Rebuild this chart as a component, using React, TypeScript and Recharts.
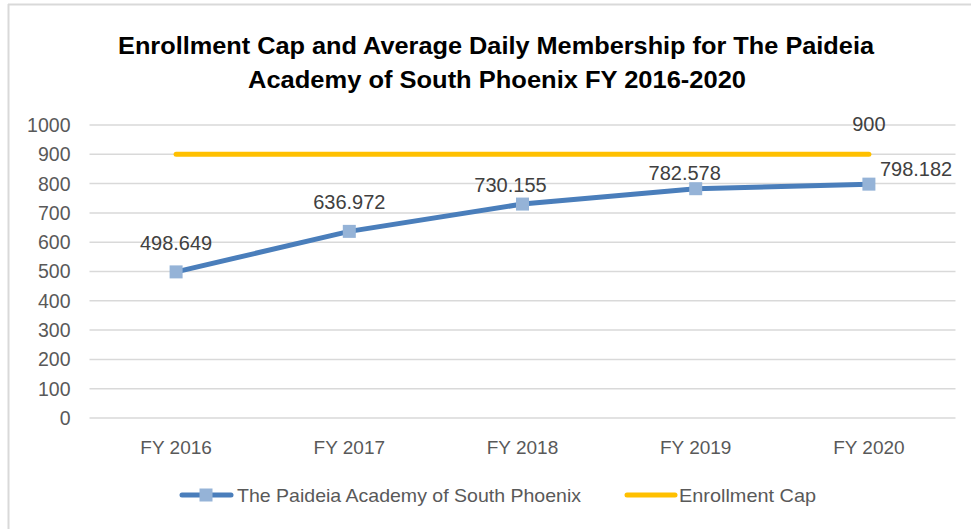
import React from "react";
import { LineChart, Line, XAxis, YAxis, CartesianGrid, LabelList } from "recharts";

const categories = ["FY 2016", "FY 2017", "FY 2018", "FY 2019", "FY 2020"];
const admValues = [498.649, 636.972, 730.155, 782.578, 798.182];
const capValues = [900, 900, 900, 900, 900];
const yTicks = [0, 100, 200, 300, 400, 500, 600, 700, 800, 900, 1000];
const seriesNames = ["The Paideia Academy of South Phoenix", "Enrollment Cap"];
const titleLines = [
  "Enrollment Cap and Average Daily Membership for The Paideia",
  "Academy of South Phoenix FY 2016-2020",
];

const data = categories.map((c, i) => ({ name: c, adm: admValues[i], cap: capValues[i] }));

const BLUE = "#4A7EBB";
const MARKER = "#95B3D7";
const GOLD = "#FFC000";
const FONT = "'Liberation Sans', Arial, sans-serif";
const LABEL_COLOR = "#404040";
const TICK_COLOR = "#595959";

// label placement offsets (styling only): [dx, dyBaseline, anchor]
const admLabelPlacement: [number, number, string][] = [
  [0, -22, "middle"],
  [0, -22, "middle"],
  [-12, -12, "middle"],
  [-11, -9, "middle"],
  [11, -8, "start"],
];

const SquareDot = (props: any) => {
  const { cx, cy } = props;
  if (cx == null || cy == null) return null;
  const s = 13;
  return <rect x={cx - s / 2} y={cy - s / 2} width={s} height={s} fill={MARKER} />;
};

const AdmLabel = (props: any) => {
  const { x, y, value, index } = props;
  const p = admLabelPlacement[index] || [0, -22, "middle"];
  return (
    <text x={x + p[0]} y={y + p[1]} textAnchor={p[2]} fontSize={20} fill={LABEL_COLOR} fontFamily={FONT}>
      {value}
    </text>
  );
};

const CapLabel = (props: any) => {
  const { x, y, value, index } = props;
  if (index !== capValues.length - 1) return null;
  return (
    <text x={x} y={y - 23} textAnchor="middle" fontSize={20} fill={LABEL_COLOR} fontFamily={FONT}>
      {value}
    </text>
  );
};

export default function App() {
  return (
    <div style={{ position: "absolute", left: 0, top: 0, width: 971, height: 529, background: "#fff" }}>
      <LineChart
        width={971}
        height={529}
        data={data}
        margin={{ top: 125, right: 15.5, left: 0, bottom: 81 }}
      >
        <CartesianGrid vertical={false} stroke="#D9D9D9" strokeWidth={1.5} />
        <XAxis
          dataKey="name"
          axisLine={false}
          tickLine={false}
          height={30}
          tickMargin={17}
          padding={{ left: 86.6, right: 86.6 }}
          tick={{ fontSize: 19, fill: TICK_COLOR, fontFamily: FONT }}
          interval={0}
        />
        <YAxis
          domain={[0, 1000]}
          ticks={yTicks}
          width={89.5}
          axisLine={false}
          tickLine={false}
          tickMargin={13}
          tick={{ fontSize: 19.5, fill: TICK_COLOR, fontFamily: FONT }}
          interval={0}
        />
        <Line
          dataKey="cap"
          stroke={GOLD}
          strokeWidth={5}
          strokeLinecap="round"
          dot={false}
          isAnimationActive={false}
        >
          <LabelList dataKey="cap" content={<CapLabel />} />
        </Line>
        <Line
          dataKey="adm"
          stroke={BLUE}
          strokeWidth={5}
          strokeLinecap="round"
          dot={<SquareDot />}
          isAnimationActive={false}
        >
          <LabelList dataKey="adm" content={<AdmLabel />} />
        </Line>
      </LineChart>
      <svg
        width={971}
        height={529}
        style={{ position: "absolute", left: 0, top: 0, pointerEvents: "none" }}
      >
        <line x1={8} y1={4.5} x2={971} y2={4.5} stroke="#D9D9D9" strokeWidth={2} />
        <line x1={8.5} y1={4} x2={8.5} y2={529} stroke="#D9D9D9" strokeWidth={2} />
        <text x={496} y={54} textAnchor="middle" fontSize={24} fontWeight="bold" fill="#000" fontFamily={FONT} textLength={756} lengthAdjust="spacingAndGlyphs">
          {titleLines[0]}
        </text>
        <text x={497} y={88} textAnchor="middle" fontSize={24} fontWeight="bold" fill="#000" fontFamily={FONT} textLength={498} lengthAdjust="spacingAndGlyphs">
          {titleLines[1]}
        </text>
        <line x1={182} y1={495} x2={231} y2={495} stroke={BLUE} strokeWidth={5} strokeLinecap="round" />
        <rect x={199.5} y={488.5} width={13} height={13} fill={MARKER} />
        <text x={237} y={502} fontSize={19} fill={TICK_COLOR} fontFamily={FONT} textLength={344} lengthAdjust="spacingAndGlyphs">
          {seriesNames[0]}
        </text>
        <line x1={627} y1={495} x2={675} y2={495} stroke={GOLD} strokeWidth={5} strokeLinecap="round" />
        <text x={679} y={502} fontSize={19} fill={TICK_COLOR} fontFamily={FONT} textLength={137} lengthAdjust="spacingAndGlyphs">
          {seriesNames[1]}
        </text>
      </svg>
    </div>
  );
}
